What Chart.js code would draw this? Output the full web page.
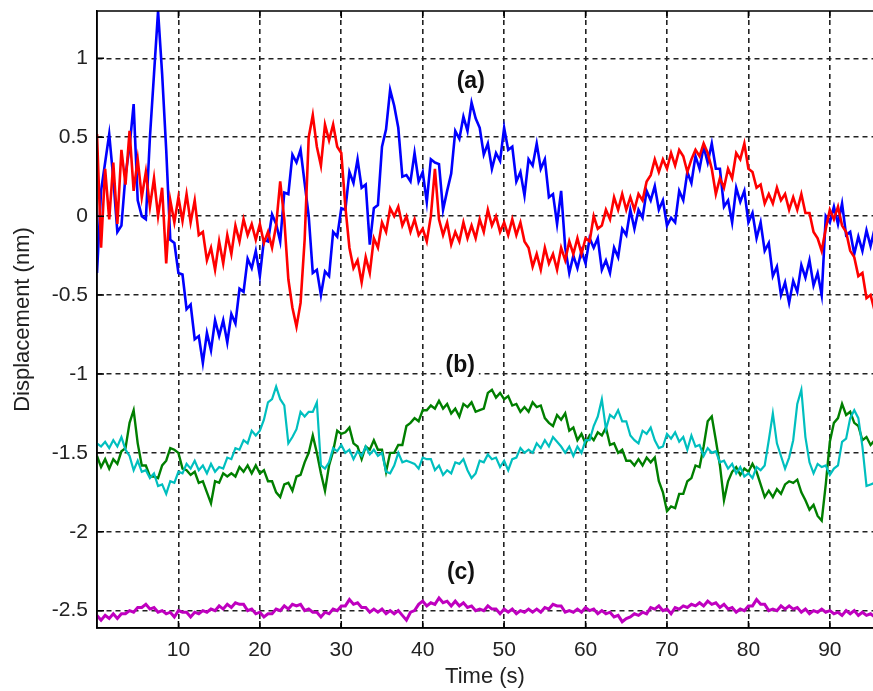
<!DOCTYPE html>
<html>
<head>
<meta charset="utf-8">
<title>Displacement traces</title>
<script src="https://cdn.jsdelivr.net/npm/chart.js@4.4.1/dist/chart.umd.min.js"></script>
<style>
  body { margin: 0; background: #fff; }
  canvas { display: block; }
</style>
</head>
<body>
<canvas id="traces" width="873" height="691"></canvas>
<script>
// sampling interval of every trace (s)
var dt = 0.5;

// (a) pair of traces, nm
var blueA = [
  -0.36, 0.16, 0.34, 0.52, 0.24, -0.1, -0.06, 0.26, 0.44, 0.71,
  0.1, 0.0, -0.02, 0.5, 0.9, 1.3, 0.9, 0.42, -0.15, -0.17,
  -0.36, -0.37, -0.59, -0.56, -0.78, -0.76, -0.93, -0.74, -0.85, -0.66,
  -0.76, -0.66, -0.8, -0.62, -0.68, -0.46, -0.48, -0.27, -0.33, -0.22,
  -0.38, -0.15, -0.16, 0.01, -0.05, -0.16, 0.15, 0.14, 0.39, 0.34,
  0.42, 0.21, 0.0, -0.36, -0.34, -0.5, -0.35, -0.38, -0.1, -0.13,
  0.05, 0.04, 0.28, 0.21, 0.36, 0.18, 0.2, -0.18, 0.05, 0.07,
  0.44, 0.55, 0.8, 0.7, 0.56, 0.25, 0.26, 0.22, 0.4, 0.22,
  0.28, 0.09, 0.36, 0.34, 0.33, 0.04, 0.16, 0.27, 0.54, 0.49,
  0.63, 0.54, 0.72, 0.62, 0.56, 0.39, 0.46, 0.3, 0.4, 0.35,
  0.56, 0.42, 0.44, 0.22, 0.28, 0.13, 0.36, 0.32, 0.46, 0.3,
  0.36, 0.12, 0.14, -0.05, 0.16, -0.2, -0.36, -0.25, -0.33, -0.22,
  -0.3, -0.14, -0.2, -0.14, -0.34, -0.28, -0.36, -0.2, -0.26, -0.08,
  -0.12, 0.04, -0.08, 0.04, -0.01, 0.16, 0.1, 0.19, 0.04, 0.1,
  -0.06, -0.01, -0.04, 0.16, 0.1, 0.28, 0.21, 0.38, 0.3, 0.44,
  0.34, 0.46, 0.3, 0.3, 0.06, 0.1, -0.04, 0.18, 0.09, 0.16,
  -0.04, 0.02, -0.14, -0.04, -0.22, -0.17, -0.38, -0.32, -0.5, -0.42,
  -0.55, -0.41, -0.48, -0.31, -0.39, -0.28, -0.44, -0.36, -0.5, 0.0,
  -0.04, 0.06, -0.05, 0.08, -0.12, -0.1, -0.24, -0.13, -0.22, -0.09,
  -0.19, -0.08
];
var redA = [
  0.52, -0.2, 0.3, -0.02, 0.34, -0.05, 0.42, 0.2, 0.54, 0.16,
  0.36, 0.12, 0.28, 0.06, 0.24, 0.0, 0.18, -0.3, 0.1, -0.04,
  0.12, -0.03, 0.14, -0.04, 0.1, -0.12, -0.1, -0.28, -0.2, -0.34,
  -0.16, -0.3, -0.12, -0.24, -0.06, -0.16, -0.02, -0.12, -0.05, -0.15,
  -0.05, -0.17, -0.1, -0.2, -0.06, 0.22, -0.02, -0.4, -0.58, -0.7,
  -0.55, -0.15, 0.5, 0.64, 0.44, 0.32, 0.58, 0.48, 0.58, 0.44,
  0.4, 0.06, -0.2, -0.33, -0.28, -0.42, -0.26, -0.36, -0.14, -0.2,
  -0.04, -0.1, 0.05, 0.0, 0.06, -0.06, 0.0, -0.1, -0.02, -0.12,
  -0.08, -0.16, 0.0, 0.3, -0.02, -0.12, -0.04, -0.18, -0.1, -0.16,
  -0.04, -0.14, -0.06, -0.14, -0.02, -0.1, 0.04, -0.06, 0.0, -0.1,
  -0.04, -0.12, -0.02, -0.12, -0.04, -0.16, -0.2, -0.32, -0.24, -0.34,
  -0.2, -0.3, -0.24, -0.34, -0.2, -0.28, -0.16, -0.24, -0.14, -0.24,
  -0.14, -0.16, 0.0, -0.08, -0.06, 0.04, -0.02, 0.12, 0.04, 0.14,
  0.04, 0.12, 0.04, 0.14, 0.1, 0.22, 0.26, 0.36, 0.28, 0.36,
  0.3, 0.4, 0.32, 0.42, 0.38, 0.28, 0.36, 0.42, 0.38, 0.46,
  0.4, 0.3, 0.14, 0.24, 0.18, 0.3, 0.24, 0.4, 0.36, 0.46,
  0.3, 0.28, 0.18, 0.2, 0.08, 0.14, 0.08, 0.18, 0.1, 0.14,
  0.04, 0.12, 0.04, 0.14, 0.02, 0.02, -0.1, -0.14, -0.22, -0.08,
  0.04, -0.02, 0.06, -0.06, -0.1, -0.22, -0.26, -0.38, -0.36, -0.52,
  -0.5, -0.6
];

// (b) pair of traces, nm
var greenB = [
  -1.52, -1.59, -1.54, -1.6, -1.54, -1.57, -1.49, -1.47, -1.31, -1.23,
  -1.44, -1.58, -1.58, -1.65, -1.65, -1.66, -1.58, -1.55, -1.47, -1.48,
  -1.5, -1.6, -1.61, -1.64, -1.62, -1.69, -1.68, -1.75, -1.82, -1.68,
  -1.69, -1.63, -1.65, -1.63, -1.65, -1.59, -1.62, -1.58, -1.63, -1.58,
  -1.63, -1.61, -1.68, -1.68, -1.75, -1.78, -1.7, -1.69, -1.74, -1.65,
  -1.64, -1.56, -1.5, -1.39, -1.5, -1.63, -1.74, -1.58, -1.49, -1.36,
  -1.38, -1.37, -1.34, -1.44, -1.46, -1.54, -1.46, -1.48, -1.42, -1.48,
  -1.48, -1.62, -1.5, -1.5, -1.45, -1.45, -1.33, -1.31, -1.28, -1.3,
  -1.23, -1.23, -1.2, -1.22, -1.17, -1.22, -1.19, -1.25, -1.22, -1.27,
  -1.19, -1.21, -1.18, -1.24, -1.23, -1.22, -1.12, -1.1, -1.15, -1.12,
  -1.16, -1.14, -1.2, -1.19, -1.24, -1.21, -1.24, -1.18, -1.21, -1.2,
  -1.28, -1.31, -1.33, -1.26, -1.29, -1.25, -1.36, -1.34, -1.42, -1.38,
  -1.44, -1.39, -1.42, -1.37, -1.39, -1.34, -1.45, -1.44, -1.5, -1.48,
  -1.55, -1.55, -1.58, -1.54, -1.58, -1.53, -1.56, -1.53, -1.68, -1.75,
  -1.87, -1.84, -1.85, -1.76, -1.76, -1.68, -1.66, -1.58, -1.59, -1.46,
  -1.3, -1.27, -1.42, -1.58, -1.8, -1.68, -1.62, -1.59, -1.64, -1.6,
  -1.62, -1.57, -1.62, -1.7, -1.78, -1.74, -1.78, -1.73, -1.76, -1.7,
  -1.68, -1.69, -1.67, -1.75, -1.8, -1.86, -1.83, -1.9, -1.93, -1.7,
  -1.43, -1.31, -1.28, -1.19, -1.26, -1.24, -1.31, -1.33, -1.42, -1.4,
  -1.45, -1.42
];
var cyanB = [
  -1.44, -1.46, -1.43, -1.47, -1.42, -1.46, -1.4, -1.48, -1.52, -1.61,
  -1.55, -1.62, -1.61, -1.66, -1.63, -1.71, -1.7, -1.76, -1.68, -1.69,
  -1.62, -1.63, -1.57, -1.6, -1.55, -1.61, -1.58, -1.63, -1.57, -1.62,
  -1.59, -1.6, -1.53, -1.54, -1.47, -1.48, -1.42, -1.44, -1.36, -1.39,
  -1.36, -1.29, -1.18, -1.16, -1.08, -1.16, -1.2, -1.44, -1.4, -1.35,
  -1.24, -1.27, -1.24, -1.24, -1.18, -1.58, -1.6, -1.56, -1.47, -1.49,
  -1.45, -1.5, -1.48, -1.54, -1.49, -1.52, -1.46, -1.51, -1.48, -1.52,
  -1.5, -1.62, -1.63, -1.58, -1.5, -1.56, -1.55, -1.56, -1.57, -1.6,
  -1.53, -1.54, -1.54, -1.61, -1.58, -1.64, -1.61, -1.63, -1.56, -1.57,
  -1.54, -1.61, -1.66, -1.63, -1.55, -1.56, -1.51, -1.54, -1.53, -1.59,
  -1.55, -1.61, -1.54, -1.53, -1.47, -1.5, -1.48, -1.5, -1.44, -1.47,
  -1.42, -1.46, -1.4, -1.43, -1.46, -1.5, -1.46, -1.52, -1.46, -1.5,
  -1.42, -1.42, -1.33, -1.27, -1.16, -1.35, -1.26, -1.28, -1.23, -1.3,
  -1.3, -1.39, -1.42, -1.44, -1.36, -1.38, -1.34, -1.42, -1.47, -1.46,
  -1.38, -1.41, -1.37, -1.43, -1.4, -1.48, -1.39, -1.46, -1.45, -1.52,
  -1.47, -1.5, -1.49, -1.56, -1.55, -1.6, -1.57, -1.63, -1.59, -1.65,
  -1.63, -1.66, -1.59, -1.61, -1.58, -1.42, -1.25, -1.44, -1.52, -1.6,
  -1.53, -1.42, -1.19, -1.1, -1.4, -1.56, -1.63, -1.57, -1.59, -1.58,
  -1.64, -1.6, -1.58, -1.43, -1.41, -1.28, -1.23, -1.28, -1.46, -1.71,
  -1.7, -1.69
];

// (c) single trace, nm
var magentaC = [
  -2.53, -2.56, -2.53, -2.55, -2.52, -2.55, -2.52, -2.52, -2.5, -2.51,
  -2.48, -2.48, -2.46, -2.49, -2.48, -2.51, -2.5, -2.52, -2.51, -2.54,
  -2.5, -2.51, -2.51, -2.54, -2.51, -2.52, -2.5, -2.51, -2.49, -2.5,
  -2.47, -2.49, -2.46, -2.48, -2.45, -2.46, -2.46, -2.5, -2.49, -2.52,
  -2.51, -2.54, -2.52, -2.52, -2.49, -2.5, -2.47, -2.49, -2.46, -2.47,
  -2.46, -2.5, -2.49, -2.51, -2.51, -2.54, -2.51, -2.52, -2.49, -2.5,
  -2.47, -2.47, -2.43, -2.46, -2.45, -2.48, -2.48, -2.51, -2.49, -2.51,
  -2.49, -2.52, -2.5, -2.52, -2.5, -2.53, -2.56, -2.51, -2.5, -2.46,
  -2.44, -2.47, -2.45, -2.46, -2.42, -2.45, -2.44, -2.47, -2.44, -2.47,
  -2.45, -2.48, -2.47, -2.5, -2.49, -2.5, -2.47, -2.49, -2.49, -2.52,
  -2.49, -2.51, -2.49, -2.52, -2.5, -2.51, -2.49, -2.51, -2.49, -2.51,
  -2.48, -2.49, -2.46, -2.47, -2.47, -2.51, -2.5, -2.51, -2.49, -2.51,
  -2.48, -2.5, -2.49, -2.52, -2.5, -2.52, -2.51, -2.54, -2.53, -2.57,
  -2.55, -2.54, -2.52, -2.53, -2.51, -2.52, -2.48, -2.49, -2.47, -2.5,
  -2.49, -2.52, -2.48, -2.49, -2.47, -2.48, -2.46, -2.47, -2.45, -2.47,
  -2.44, -2.46, -2.45, -2.48, -2.46, -2.49, -2.48, -2.51, -2.49, -2.5,
  -2.47, -2.47, -2.43, -2.46, -2.46, -2.5, -2.49, -2.5, -2.47, -2.49,
  -2.47, -2.49, -2.48, -2.51, -2.49, -2.52, -2.5, -2.51, -2.49, -2.51,
  -2.5, -2.52, -2.51, -2.53, -2.5, -2.52, -2.5, -2.53, -2.51, -2.53,
  -2.52, -2.54
];

var xTicks = [10, 20, 30, 40, 50, 60, 70, 80, 90];
var yTicks = [1, 0.5, 0, -0.5, -1, -1.5, -2, -2.5];

// panel tags, placed in data units
var tags = [
  { text: '(a)', t: 45.9, v: 0.85 },
  { text: '(b)', t: 44.6, v: -0.95 },
  { text: '(c)', t: 44.7, v: -2.26 }
];

var FONT = '"Liberation Sans", Arial, sans-serif';
Chart.defaults.font.family = FONT;
Chart.defaults.color = '#222';

function toPoints(vals) {
  return vals.map(function (v, i) { return { x: i * dt, y: v }; });
}

function trace(vals, color, width) {
  return {
    data: toPoints(vals),
    borderColor: color,
    borderWidth: width,
    pointRadius: 0,
    tension: 0,
    fill: false
  };
}

// frame, inside tick marks and the (a)/(b)/(c) tags
var framePlugin = {
  id: 'frame',
  afterDatasetsDraw: function (chart) {
    var c = chart.ctx, a = chart.chartArea;
    var xs = chart.scales.x, ys = chart.scales.y;
    c.save();
    c.setLineDash([]);
    c.strokeStyle = '#000';
    c.lineWidth = 1.5;
    c.beginPath();
    c.moveTo(a.left, a.top); c.lineTo(a.right + 2, a.top);
    c.moveTo(a.left, a.top); c.lineTo(a.left, a.bottom);
    c.lineTo(a.right + 2, a.bottom);
    xTicks.forEach(function (t) {
      var px = xs.getPixelForValue(t);
      c.moveTo(px, a.bottom); c.lineTo(px, a.bottom - 7);
      c.moveTo(px, a.top); c.lineTo(px, a.top + 7);
    });
    yTicks.forEach(function (v) {
      var py = ys.getPixelForValue(v);
      c.moveTo(a.left, py); c.lineTo(a.left + 7, py);
    });
    c.stroke();

    c.font = 'bold 23px ' + FONT;
    c.textAlign = 'center';
    c.textBaseline = 'middle';
    tags.forEach(function (g) {
      var px = xs.getPixelForValue(g.t), py = ys.getPixelForValue(g.v);
      var w = c.measureText(g.text).width;
      c.fillStyle = '#fff';
      c.fillRect(px - w / 2 - 4, py - 13, w + 8, 26);
      c.fillStyle = '#111';
      c.fillText(g.text, px, py);
    });
    c.restore();
  }
};

var ctx = document.getElementById('traces').getContext('2d');
var chart = new Chart(ctx, {
  type: 'line',
  data: {
    datasets: [
      trace(redA, '#ff0000', 2.6),
      trace(blueA, '#0000ff', 2.6),
      trace(cyanB, '#00bfbf', 2.2),
      trace(greenB, '#007f00', 2.4),
      trace(magentaC, '#bf00bf', 3)
    ]
  },
  options: {
    responsive: false,
    animation: false,
    layout: { padding: { top: 11, right: 0, bottom: 0, left: 0 } },
    plugins: { legend: { display: false }, tooltip: { enabled: false } },
    scales: {
      x: {
        type: 'linear',
        min: 0,
        max: 95.3,
        afterBuildTicks: function (s) { s.ticks = xTicks.map(function (v) { return { value: v }; }); },
        afterFit: function (s) { s.height = 63; s.paddingLeft = 0; s.paddingRight = 0; },
        grid: { color: '#222', lineWidth: 1.6, drawTicks: false },
        border: { display: true, color: '#000', width: 1.5, dash: [5, 4] },
        ticks: {
          autoSkip: false, maxRotation: 0, padding: 10, color: '#222',
          font: { size: 21 },
          callback: function (v) { return String(v); }
        },
        title: {
          display: true, text: 'Time (s)', color: '#222',
          font: { size: 22 }, padding: { top: 0, bottom: 1 }
        }
      },
      y: {
        type: 'linear',
        min: -2.61,
        max: 1.30,
        afterBuildTicks: function (s) { s.ticks = yTicks.map(function (v) { return { value: v }; }); },
        afterFit: function (s) { s.width = 97; s.paddingTop = 0; s.paddingBottom = 0; },
        grid: { color: '#222', lineWidth: 1.6, drawTicks: false },
        border: { display: true, color: '#000', width: 1.5, dash: [5, 4] },
        ticks: {
          padding: 9, color: '#222',
          font: { size: 21 },
          callback: function (v) { return String(v); }
        },
        title: {
          display: true, text: 'Displacement (nm)', color: '#222',
          font: { size: 22 }, padding: { top: 10, bottom: 0 }
        }
      }
    }
  },
  plugins: [framePlugin]
});
</script>
</body>
</html>
